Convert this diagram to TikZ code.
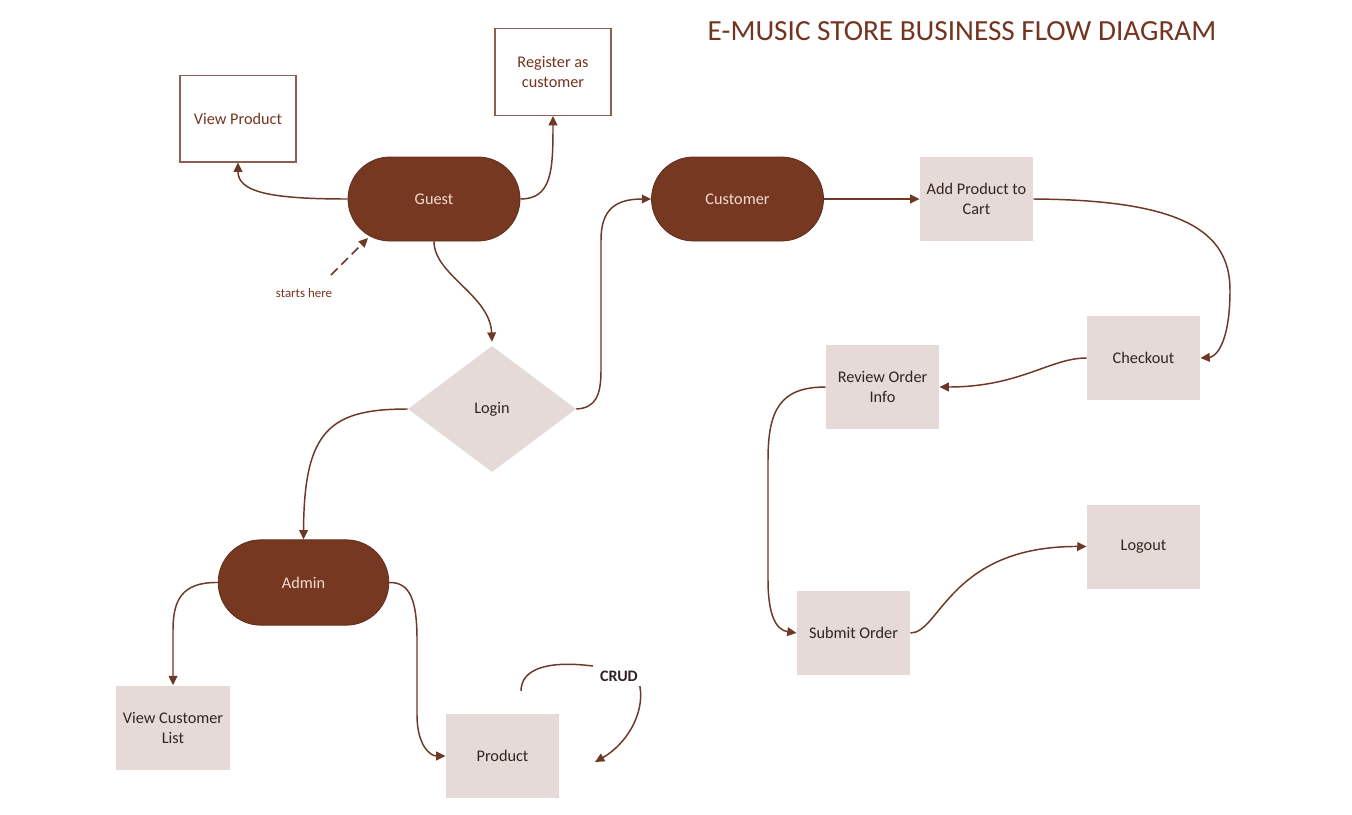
\documentclass[tikz,border=0pt]{standalone}
\usepackage{fontspec}
\setmainfont{Carlito}
\usetikzlibrary{shapes.geometric,arrows.meta}
\definecolor{dkbrown}{HTML}{773822}
\definecolor{lightbox}{HTML}{E6DAD8}
\definecolor{linec}{HTML}{6E3826}
\definecolor{txtbrown}{HTML}{743520}
\definecolor{txtdark}{HTML}{33241F}
\definecolor{txtlight}{HTML}{F2DCCF}
\definecolor{bordc}{HTML}{8E5E50}
\tikzset{
  whitebox/.style={draw=bordc, line width=1pt, fill=white, minimum width=87pt, minimum height=65pt, align=center, text=txtbrown, font=\fontsize{12.2pt}{15pt}\selectfont, inner sep=2pt},
  lbox/.style={fill=lightbox, minimum width=85pt, minimum height=63pt, align=center, text=txtdark, font=\fontsize{12.2pt}{15pt}\selectfont, inner sep=2pt},
  stadium/.style={fill=dkbrown, draw=dkbrown!80!black, line width=0.6pt, rounded corners=31.5pt, minimum width=129pt, minimum height=63pt, text=txtlight, font=\fontsize{12.2pt}{15pt}\selectfont},
  arr/.style={draw=linec, line width=1.1pt, -{Triangle[length=7pt,width=6.5pt]}},
  plain/.style={draw=linec, line width=1.1pt}
}
\begin{document}
\begin{tikzpicture}[x=0.75pt,y=-0.75pt]
\fill[white] (0,0) rectangle (1352,814);
\useasboundingbox (0,0) rectangle (1352,814);

\node[text=txtbrown, font=\fontsize{21.9pt}{26pt}\selectfont] (title) at (962,31) {E-MUSIC STORE BUSINESS FLOW DIAGRAM};

\node[whitebox] (vp) at (238,118.5) {View Product};
\node[whitebox] (reg) at (553,72) {Register as\\customer};
\node[stadium] (guest) at (434,199) {Guest};
\node[stadium] (cust) at (737.5,199) {Customer};
\node[lbox] (add) at (976.5,199) {Add Product to\\Cart};
\node[shape=diamond, fill=lightbox, minimum width=126pt, minimum height=94.5pt, inner sep=0pt, text=txtdark, font=\fontsize{12.2pt}{15pt}\selectfont] (login) at (492,409) {Login};
\node[lbox] (check) at (1143.5,358) {Checkout};
\node[lbox] (review) at (882.5,387) {Review Order\\Info};
\node[lbox] (submit) at (853.5,633) {Submit Order};
\node[lbox] (logout) at (1143.5,546.5) {Logout};
\node[stadium, minimum width=128pt, minimum height=64pt, rounded corners=32pt] (admin) at (303.5,582.5) {Admin};
\node[lbox] (vcl) at (173,727.5) {View Customer\\List};
\node[lbox] (prod) at (502.5,756) {Product};

\node[text=txtbrown, font=\fontsize{9.7pt}{11pt}\selectfont] (starts) at (304,293) {starts here};
\coordinate (sh1) at (331,275);
\coordinate (sh2) at (368,238);
\draw[arr, dashed, dash pattern=on 7pt off 4pt] (sh1) -- (sh2);

\node[text=txtdark, font=\fontsize{12pt}{14pt}\selectfont\bfseries] (crud) at (619,676) {CRUD};
\coordinate (cr1) at (521,691);
\coordinate (cr2) at (595,762);

% connectors
\draw[arr] (guest.west) .. controls (270,199) and (238,192) .. (vp.south);
\draw[arr] (guest.east) .. controls (552,199) and (553,170) .. (reg.south);
\draw[arr] (guest.south) .. controls (434,275) and (490,295) .. ([yshift=3pt]login.north);
\draw[arr] (login.east) .. controls (596,408) and (601,395) .. (601,370) -- (601,240) .. controls (601,210) and (615,199) .. (cust.west);
\draw[arr] (login.west) .. controls (330,409) and (304,430) .. (admin.north);
\draw[arr] (cust.east) -- (add.west);
\draw[arr] (add.east) .. controls (1180,200) and (1230,230) .. (1230,290) .. controls (1230,345) and (1215,357) .. (check.east);
\draw[arr] (check.west) .. controls (1050,358) and (1020,387) .. (review.east);
\draw[arr] (review.west) .. controls (780,387) and (768,410) .. (768,460) -- (768,580) .. controls (768,615) and (776,630) .. (submit.west);
\draw[arr] (submit.east) .. controls (940,633) and (950,546) .. (logout.west);
\draw[arr] (admin.west) .. controls (182,582) and (173,600) .. (173,630) -- (vcl.north);
\draw[arr] (admin.east) .. controls (410,582) and (417,600) .. (417,640) -- (417,715) .. controls (417,745) and (430,756) .. (prod.west);
\draw[plain] (cr1) .. controls (521,670) and (545,660) .. ([xshift=-2pt]crud.north west);
\draw[arr] ([xshift=-2pt]crud.south east) .. controls (645,715) and (625,745) .. (cr2);
\end{tikzpicture}
\end{document}
